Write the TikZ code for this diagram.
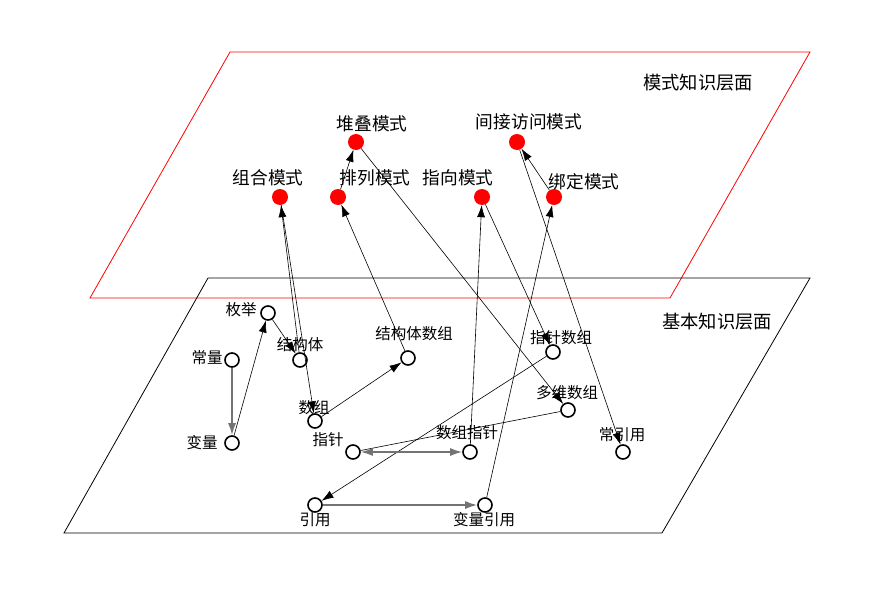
\documentclass[tikz,border=0pt]{standalone}
\usepackage{fontspec}
\setmainfont{Noto Sans CJK SC}
\usetikzlibrary{arrows.meta}

\begin{document}
\begin{tikzpicture}[x=1pt,y=-1pt,
  >={Latex[length=12pt,width=8pt]},
  mode/.style={circle,fill=red,minimum size=16pt,inner sep=0pt},
  basic/.style={circle,draw,line width=1.6pt,fill=white,minimum size=14pt,inner sep=0pt},
  link/.style={->,line width=0.6pt},
  glink/.style={->,draw=black!55,line width=1.6pt},
  plane/.style={font=\fontsize{18.3}{22}\selectfont,inner sep=0pt},
  big/.style={font=\fontsize{17.7}{21}\selectfont,inner sep=0pt},
  small/.style={font=\fontsize{15.5}{18}\selectfont,inner sep=0pt}]
\useasboundingbox (0,0) rectangle (889,589);

\draw[red,line width=0.8pt] (230,52) -- (810,52) -- (670,298) -- (90,298) -- cycle;
\draw[line width=0.8pt] (208,278) -- (810,278) -- (662,533) -- (64,533) -- cycle;
\node[plane] (tMode) at (698,83) {模式知识层面};
\node[plane] (tBasic) at (717,322) {基本知识层面};

\node[mode] (mDuidie) at (356,142) {};
\node[mode] (mZuhe) at (280,197) {};
\node[mode] (mPailie) at (338,197) {};
\node[mode] (mZhixiang) at (482,197) {};
\node[mode] (mJianjie) at (517,142) {};
\node[mode] (mBangding) at (554,197) {};

\node[big] (tDuidie) at (372,124) {堆叠模式};
\node[big] (tZuhe) at (268,178) {组合模式};
\node[big] (tPailie) at (375,178) {排列模式};
\node[big] (tZhixiang) at (458,178) {指向模式};
\node[big] (tJianjie) at (529,122) {间接访问模式};
\node[big] (tBangding) at (584,182) {绑定模式};

\node[basic] (bMeiju) at (268,313) {};
\node[basic] (bJiegouti) at (300,360) {};
\node[basic] (bChangliang) at (232,360) {};
\node[basic] (bBianliang) at (232,443) {};
\node[basic] (bJgtShuzu) at (408,358) {};
\node[basic] (bShuzu) at (315,421) {};
\node[basic] (bZhizhen) at (353,452) {};
\node[basic] (bShuzuZz) at (470,452) {};
\node[basic] (bYinyong) at (315,505) {};
\node[basic] (bBlYinyong) at (485,505) {};
\node[basic] (bZzShuzu) at (553,352) {};
\node[basic] (bDuowei) at (568,410) {};
\node[basic] (bChangYy) at (623,452) {};

\node[small] (tMeiju) at (241,310) {枚举};
\node[small] (tJiegouti) at (300,345) {结构体};
\node[small] (tChangliang) at (207,358) {常量};
\node[small] (tBianliang) at (202,443) {变量};
\node[small] (tJgtShuzu) at (414,334) {结构体数组};
\node[small] (tShuzu) at (314,408) {数组};
\node[small] (tZhizhen) at (328,440) {指针};
\node[small] (tShuzuZz) at (467,433) {数组指针};
\node[small] (tZzShuzu) at (561,338) {指针数组};
\node[small] (tDuowei) at (567,393) {多维数组};
\node[small] (tChangYy) at (622,435) {常引用};
\node[small] (tYinyong) at (315,520) {引用};
\node[small] (tBlYinyong) at (484,520) {变量引用};

\draw[glink] (bChangliang) -- (bBianliang);
\draw[link] (bBianliang) -- (bMeiju);
\draw[link] (bMeiju) -- (bJiegouti);
\draw[link] (bJiegouti) -- (mZuhe);
\draw[link] (mZuhe) -- (bShuzu);
\draw[link] (bShuzu) -- (bJgtShuzu);
\draw[link] (bJgtShuzu) -- (mPailie);
\draw[link] (mPailie) -- (mDuidie);
\draw[link] (mDuidie) -- (bDuowei);
\draw[link] (bShuzuZz) -- (mZhixiang);
\draw[link] (mZhixiang) -- (bZzShuzu);
\draw[link] (bZzShuzu) -- (bYinyong);
\draw[line width=0.6pt] (bDuowei) -- (bZhizhen);
\draw[glink,<->] (bZhizhen) -- (bShuzuZz);
\draw[glink] (bYinyong) -- (bBlYinyong);
\draw[link] (bBlYinyong) -- (mBangding);
\draw[link] (mBangding) -- (mJianjie);
\draw[link] (mJianjie) -- (bChangYy);
\end{tikzpicture}
\end{document}
